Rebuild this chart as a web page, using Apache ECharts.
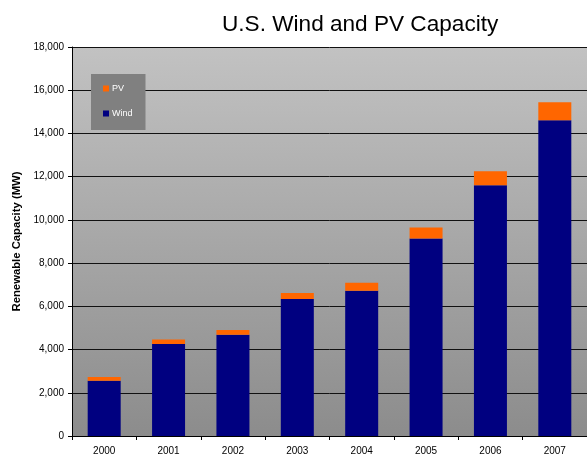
<!DOCTYPE html>
<html>
<head>
<meta charset="utf-8">
<script src="https://cdn.jsdelivr.net/npm/echarts@6/dist/echarts.min.js"></script>
<style>
  html, body { margin: 0; padding: 0; background: #ffffff; }
  #chart { width: 587px; height: 458px; }
</style>
</head>
<body>
<div id="chart"></div>
<script>
// Installed capacity by year, in MW
const years = ['2000', '2001', '2002', '2003', '2004', '2005', '2006', '2007'];
const windMW = [2560, 4260, 4680, 6340, 6720, 9140, 11600, 14610];
const pvMW = [170, 200, 230, 280, 370, 510, 650, 830];
const yTicks = { min: 0, max: 18000, step: 2000 };

const FONT = 'Liberation Sans, Arial, sans-serif';

const chart = echarts.init(document.getElementById('chart'), null, { renderer: 'canvas' });

chart.setOption({
  backgroundColor: '#ffffff',
  animation: false,
  title: {
    text: 'U.S. Wind and PV Capacity',
    left: 217,
    top: 8,
    textStyle: { fontFamily: FONT, fontSize: 22.6, fontWeight: 'normal', color: '#000000' }
  },
  legend: {
    data: ['PV', 'Wind'],
    orient: 'vertical',
    left: 91,
    top: 74,
    padding: [10, 13, 12, 12],
    itemGap: 16,
    itemWidth: 6,
    itemHeight: 6,
    backgroundColor: '#808080',
    icon: 'rect',
    textStyle: { fontFamily: FONT, fontSize: 9, color: '#ffffff', padding: [0, 0, 0, -2] }
  },
  grid: {
    left: 72,
    top: 47,
    right: -8,
    bottom: 22,
    show: true,
    borderWidth: 0,
    backgroundColor: {
      type: 'linear', x: 0, y: 0, x2: 0, y2: 1,
      colorStops: [
        { offset: 0, color: '#c2c2c2' },
        { offset: 1, color: '#8c8c8c' }
      ]
    }
  },
  xAxis: {
    type: 'category',
    data: years,
    axisLine: { lineStyle: { color: '#000000', width: 1 } },
    axisTick: { show: true, alignWithLabel: false, length: 4, lineStyle: { color: '#000000' } },
    axisLabel: { fontFamily: FONT, fontSize: 10, color: '#000000', margin: 10 },
    splitLine: { show: false }
  },
  yAxis: {
    type: 'value',
    min: yTicks.min,
    max: yTicks.max,
    interval: yTicks.step,
    name: 'Renewable Capacity (MW)',
    nameLocation: 'middle',
    nameRotate: 90,
    nameGap: 48,
    nameTextStyle: { fontFamily: FONT, fontSize: 11.3, fontWeight: 'bold', color: '#000000' },
    axisLine: { show: true, lineStyle: { color: '#000000', width: 1 } },
    axisTick: { show: true, length: 4, lineStyle: { color: '#000000' } },
    axisLabel: {
      fontFamily: FONT, fontSize: 10, color: '#000000', margin: 8,
      formatter: v => v.toLocaleString('en-US')
    },
    splitLine: { show: true, lineStyle: { color: '#111111', width: 1 } }
  },
  series: [
    {
      name: 'Wind',
      type: 'bar',
      stack: 'capacity',
      data: windMW,
      barWidth: 33,
      itemStyle: { color: '#000080' }
    },
    {
      name: 'PV',
      type: 'bar',
      stack: 'capacity',
      data: pvMW,
      barWidth: 33,
      itemStyle: { color: '#ff6600' }
    }
  ]
});
</script>
</body>
</html>
